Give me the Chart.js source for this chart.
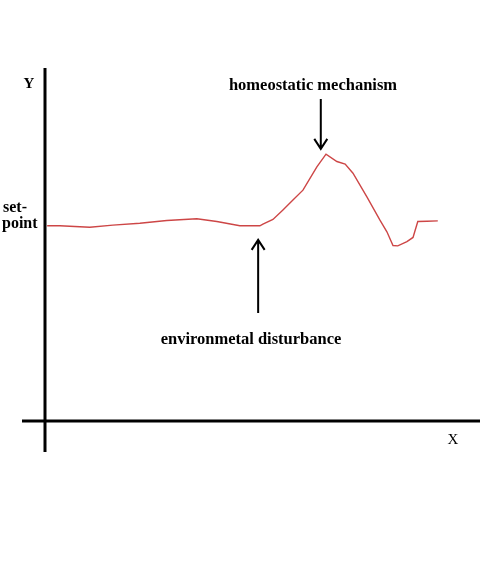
<!DOCTYPE html>
<html>
<head>
<meta charset="utf-8">
<script src="https://cdn.jsdelivr.net/npm/chart.js@4.4.1/dist/chart.umd.min.js"></script>
<style>
    body { margin: 0; background: #fff; }
    canvas { display: block; }
</style>
</head>
<body>
<canvas id="homeoChart" width="500" height="566"></canvas>
<script>
// Curve (time on X, response on Y, both 0-100)
const timeValues = [0.5, 3.4, 10.3, 15.6, 21.8, 28.0, 34.9, 39.5, 44.8, 49.4, 50.1, 52.4, 54.7, 57.0, 59.3, 62.5, 64.6, 67.1, 69.0, 70.8, 74.0, 77.0, 78.6, 80.0, 81.1, 83.2, 84.6, 85.7, 87.8, 90.3];
const responseValues = [55.3, 55.3, 54.9, 55.5, 56.0, 56.8, 57.3, 56.5, 55.3, 55.3, 55.8, 57.1, 59.8, 62.6, 65.4, 72.0, 75.6, 73.5, 72.8, 70.2, 63.5, 56.9, 53.6, 49.7, 49.6, 50.8, 52.0, 56.5, 56.6, 56.7];

// Annotation arrows, in data units
const disturbanceX = 49.0;
const mechanismX = 63.4;

const serif = '"Liberation Serif", "Times New Roman", serif';

// Draw the crossing axes and the labels
const sketchPlugin = {
    id: 'sketch',
    beforeDatasetsDraw(chart) {
        const { ctx, chartArea, scales } = chart;
        const ox = scales.x.getPixelForValue(0);
        const oy = scales.y.getPixelForValue(0);

        ctx.save();
        ctx.strokeStyle = '#000';
        ctx.lineWidth = 3;
        ctx.beginPath();
        ctx.moveTo(ox, chartArea.top);
        ctx.lineTo(ox, oy + 31);
        ctx.moveTo(ox - 23, oy);
        ctx.lineTo(chartArea.right, oy);
        ctx.stroke();
        ctx.restore();
    },
    afterDraw(chart) {
        const { ctx, scales } = chart;
        const x = scales.x, y = scales.y;

        ctx.save();
        ctx.fillStyle = '#000';
        ctx.textBaseline = 'alphabetic';

        ctx.font = 'bold 15px ' + serif;
        ctx.textAlign = 'center';
        ctx.fillText('Y', 29, 88);
        ctx.font = '15px ' + serif;
        ctx.fillText('X', 453, 444);

        ctx.font = 'bold 16px ' + serif;
        ctx.textAlign = 'left';
        ctx.fillText('set-', 3, 212);
        ctx.fillText('point', 2, 228);

        ctx.font = 'bold 16.5px ' + serif;
        ctx.textAlign = 'center';
        ctx.fillText('homeostatic mechanism', 313, 90);
        ctx.fillText('environmetal disturbance', 251, 344);

        drawArrow(ctx, x.getPixelForValue(mechanismX), y.getPixelForValue(91.2), y.getPixelForValue(77.1));
        drawArrow(ctx, x.getPixelForValue(disturbanceX), y.getPixelForValue(30.6), y.getPixelForValue(51.3));
        ctx.restore();
    }
};

function drawArrow(ctx, px, fromY, toY) {
    const dir = toY > fromY ? 1 : -1;
    ctx.strokeStyle = '#000';
    ctx.lineWidth = 2;
    ctx.beginPath();
    ctx.moveTo(px, fromY);
    ctx.lineTo(px, toY);
    ctx.moveTo(px - 6.5, toY - dir * 10);
    ctx.lineTo(px, toY);
    ctx.lineTo(px + 6.5, toY - dir * 10);
    ctx.stroke();
}

new Chart(document.getElementById('homeoChart'), {
    type: 'line',
    data: {
        datasets: [{
            data: timeValues.map((t, i) => ({ x: t, y: responseValues[i] })),
            borderColor: 'rgb(205, 70, 70)',
            borderWidth: 1.4,
            pointRadius: 0,
            tension: 0,
            fill: false
        }]
    },
    options: {
        responsive: false,
        animation: false,
        devicePixelRatio: 1,
        layout: {
            padding: { left: 45, right: 20, top: 68, bottom: 145 }
        },
        scales: {
            x: { type: 'linear', min: 0, max: 100, display: false },
            y: { min: 0, max: 100, display: false }
        },
        plugins: {
            legend: { display: false },
            tooltip: { enabled: false }
        }
    },
    plugins: [sketchPlugin]
});
</script>
</body>
</html>
